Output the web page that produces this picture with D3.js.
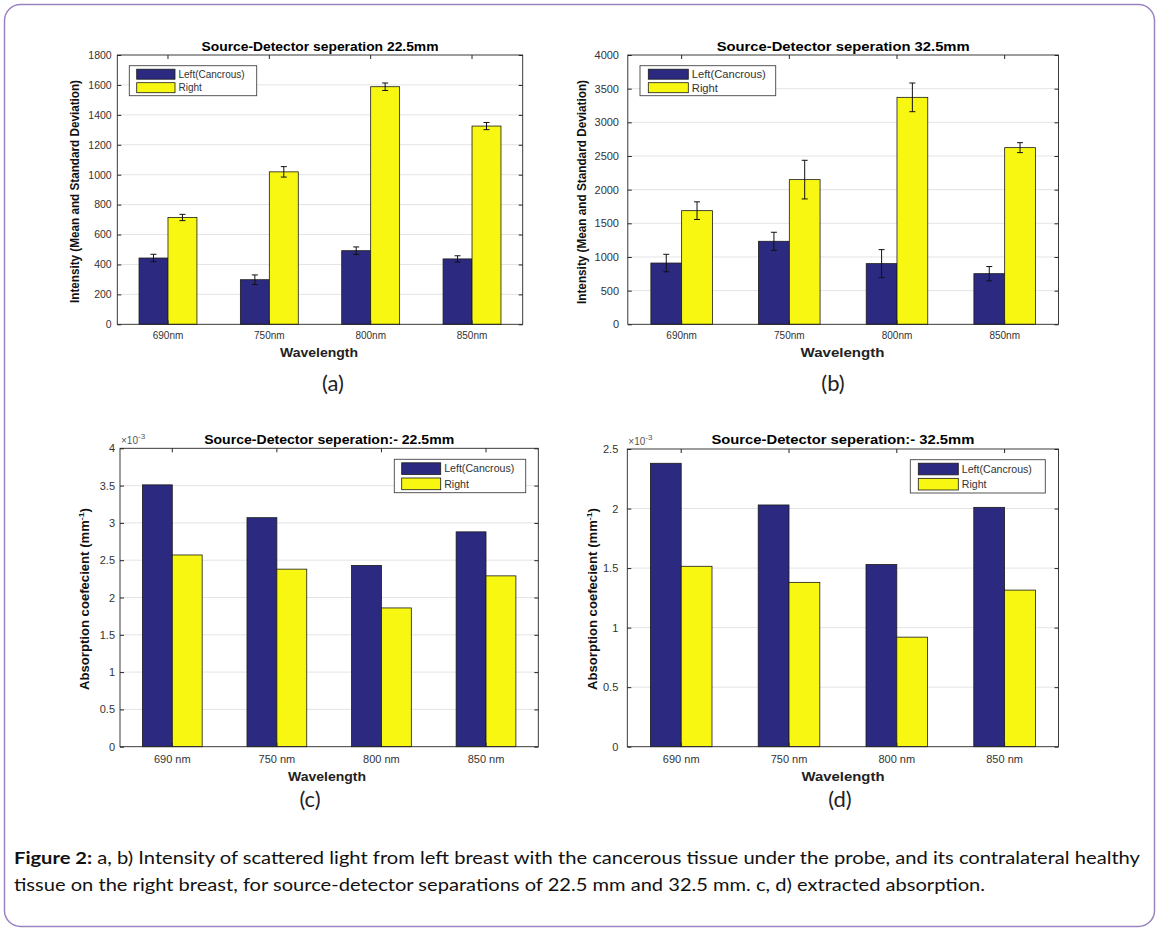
<!DOCTYPE html>
<html><head><meta charset="utf-8">
<script src="https://cdn.jsdelivr.net/npm/d3@7"></script>
<style>body{margin:0;background:#fff}svg{display:block}</style>
</head><body>
<svg id="fig" width="1160" height="934"></svg>
<script>
// ---------------- data ----------------
const seriesNames = ["Left(Cancrous)", "Right"];
const wavelengthsAB = ["690nm", "750nm", "800nm", "850nm"];
const wavelengthsCD = ["690 nm", "750 nm", "800 nm", "850 nm"];

// (a) intensity, 22.5 mm separation: mean and SD
const intensity225Left    = [443, 298, 492, 437];
const intensity225LeftSD  = [25, 32, 25, 21];
const intensity225Right   = [714, 1019, 1588, 1325];
const intensity225RightSD = [21, 35, 25, 24];

// (b) intensity, 32.5 mm separation: mean and SD
const intensity325Left    = [910, 1233, 901, 752];
const intensity325LeftSD  = [130, 134, 208, 106];
const intensity325Right   = [1688, 2149, 3371, 2624];
const intensity325RightSD = [131, 287, 213, 74];

// (c),(d) absorption coefficient, in units of 10^-3 mm^-1
const absorption225Left  = [3.51, 3.07, 2.43, 2.88];
const absorption225Right = [2.57, 2.38, 1.86, 2.29];
const absorption325Left  = [2.38, 2.03, 1.53, 2.01];
const absorption325Right = [1.515, 1.38, 0.92, 1.315];

const ticksA = [0, 200, 400, 600, 800, 1000, 1200, 1400, 1600, 1800];
const ticksB = [0, 500, 1000, 1500, 2000, 2500, 3000, 3500, 4000];
const ticksC = [0, 0.5, 1, 1.5, 2, 2.5, 3, 3.5, 4];
const ticksD = [0, 0.5, 1, 1.5, 2, 2.5];

const titles = ["Source-Detector seperation 22.5mm", "Source-Detector seperation 32.5mm",
                "Source-Detector seperation:- 22.5mm", "Source-Detector seperation:- 32.5mm"];
const panelLetters = ["(a)", "(b)", "(c)", "(d)"];
const captionBold = "Figure 2:";
const captionLine1 = " a, b) Intensity of scattered light from left breast with the cancerous tissue under the probe, and its contralateral healthy";
const captionLine2 = "tissue on the right breast, for source-detector separations of 22.5 mm and 32.5 mm. c, d) extracted absorption.";

// ---------------- drawing ----------------
const colors = ["#2c2a80", "#f7f712"];
const FONT = "'Liberation Sans', Arial, sans-serif";
const svg = d3.select("#fig");

svg.append("rect").attr("x", 4.5).attr("y", 4.5).attr("width", 1150).attr("height", 922)
  .attr("rx", 16).attr("fill", "#fff").attr("stroke", "#9b82c0").attr("stroke-width", 1.5);

function panel(cfg) {
  const g = svg.append("g").attr("font-family", FONT);
  const x = d3.scaleBand().domain(cfg.cats).range([cfg.x0, cfg.x1]).padding(0);
  const xs = d3.scaleBand().domain(seriesNames).range([0, x.bandwidth()]).paddingOuter(0.75).paddingInner(0);
  const y = d3.scaleLinear().domain(cfg.domain).range([cfg.y1, cfg.y0]);

  // grid
  g.append("g").selectAll("line").data(cfg.ticks.slice(1, -1)).join("line")
    .attr("x1", cfg.x0).attr("x2", cfg.x1).attr("y1", d => y(d)).attr("y2", d => y(d))
    .attr("stroke", "#e4e4e4").attr("stroke-width", 1);

  // bars
  const rows = [];
  cfg.cats.forEach((c, i) => seriesNames.forEach((s, j) => rows.push({
    c, s, j, v: cfg.values[j][i], e: cfg.errors ? cfg.errors[j][i] : null })));
  g.append("g").selectAll("rect").data(rows).join("rect")
    .attr("x", d => x(d.c) + xs(d.s)).attr("width", xs.bandwidth())
    .attr("y", d => y(d.v)).attr("height", d => y(0) - y(d.v))
    .attr("fill", d => colors[d.j]).attr("stroke", "#1a1a1a").attr("stroke-width", 0.8);

  // error bars
  if (cfg.errors) {
    const eg = g.append("g").attr("stroke", "#111").attr("stroke-width", 1);
    rows.forEach(d => {
      const cx = x(d.c) + xs(d.s) + xs.bandwidth() / 2;
      eg.append("line").attr("x1", cx).attr("x2", cx).attr("y1", y(d.v - d.e)).attr("y2", y(d.v + d.e));
      [d.v - d.e, d.v + d.e].forEach(v => eg.append("line")
        .attr("x1", cx - 3).attr("x2", cx + 3).attr("y1", y(v)).attr("y2", y(v)));
    });
  }

  // axes
  const fmt = d => String(d);
  const left = g.append("g").attr("transform", `translate(${cfg.x0},0)`)
    .call(d3.axisLeft(y).tickValues(cfg.ticks).tickFormat(fmt).tickSizeInner(-4).tickSizeOuter(0).tickPadding(cfg.yPad));
  left.select(".domain").remove();
  left.selectAll("text").attr("font-size", cfg.yFs).attr("fill", "#333");
  const right = g.append("g").attr("transform", `translate(${cfg.x1},0)`)
    .call(d3.axisRight(y).tickValues(cfg.ticks).tickFormat("").tickSizeInner(-4).tickSizeOuter(0));
  right.select(".domain").remove();
  const bottom = g.append("g").attr("transform", `translate(0,${cfg.y1})`)
    .call(d3.axisBottom(x).tickSizeInner(-4).tickSizeOuter(0).tickPadding(cfg.xPad));
  bottom.select(".domain").remove();
  bottom.selectAll("text").attr("font-size", cfg.xFs).attr("fill", "#333");
  const top = g.append("g").attr("transform", `translate(0,${cfg.y0})`)
    .call(d3.axisTop(x).tickFormat("").tickSizeInner(-4).tickSizeOuter(0));
  top.select(".domain").remove();
  g.selectAll(".tick line").attr("stroke", "#262626");

  // frame
  g.append("rect").attr("x", cfg.x0).attr("y", cfg.y0).attr("width", cfg.x1 - cfg.x0)
    .attr("height", cfg.y1 - cfg.y0).attr("fill", "none").attr("stroke", "#262626").attr("stroke-width", 0.9);

  // title
  g.append("text").attr("x", (cfg.x0 + cfg.x1) / 2).attr("y", cfg.titleY).attr("text-anchor", "middle")
    .attr("font-weight", "bold").attr("font-size", 12.5).attr("textLength", cfg.titleLen)
    .attr("lengthAdjust", "spacingAndGlyphs").text(cfg.title);

  // x label
  g.append("text").attr("x", cfg.xlX).attr("y", cfg.xlY).attr("text-anchor", "middle")
    .attr("font-weight", "bold").attr("font-size", 13.5).attr("textLength", cfg.xlLen)
    .attr("lengthAdjust", "spacingAndGlyphs").attr("fill", "#222").text("Wavelength");

  // y label
  const yl = g.append("text").attr("transform", `translate(${cfg.ylX},${cfg.ylY}) rotate(-90)`)
    .attr("text-anchor", "middle").attr("font-weight", "bold").attr("font-size", 12)
    .attr("textLength", cfg.ylLen).attr("lengthAdjust", "spacingAndGlyphs").attr("fill", "#111");
  if (cfg.absorption) {
    yl.append("tspan").text("Absorption coefecient (mm");
    yl.append("tspan").attr("font-size", 8).attr("dy", -5).text("-1");
    yl.append("tspan").attr("dy", 5).text(")");
    const ex = g.append("text").attr("x", cfg.x0 + 1).attr("y", cfg.y0 - 4)
      .attr("font-size", 10).attr("fill", "#555");
    ex.append("tspan").text("\u00d710");
    ex.append("tspan").attr("font-size", 8).attr("dy", -5).text("-3");
  } else {
    yl.text("Intensity (Mean and Standard Deviation)");
  }

  // legend
  const L = cfg.legend;
  const lg = g.append("g");
  lg.append("rect").attr("x", L.x).attr("y", L.y).attr("width", L.w).attr("height", L.h)
    .attr("fill", "#fff").attr("stroke", "#444").attr("stroke-width", 0.9);
  seriesNames.forEach((s, j) => {
    const ry = L.y + 3.5 + j * (L.h / 2 - 1.5);
    lg.append("rect").attr("x", L.sx).attr("y", ry).attr("width", L.sw).attr("height", L.h / 2 - 5)
      .attr("fill", colors[j]).attr("stroke", "#1a1a1a").attr("stroke-width", 0.8);
    lg.append("text").attr("x", L.sx + L.sw + 3.5).attr("y", ry + (L.h / 2 - 5) / 2 + L.fs * 0.36)
      .attr("font-size", L.fs).attr("fill", "#333").text(s);
  });

  // panel letter
  svg.append("text").attr("x", cfg.letterX).attr("y", cfg.letterY).attr("text-anchor", "middle")
    .attr("font-family", "Lato, 'Open Sans', sans-serif").attr("font-size", 22).attr("fill", "#222")
    .text(cfg.letter);
}

panel({ cats: wavelengthsAB, values: [intensity225Left, intensity225Right],
  errors: [intensity225LeftSD, intensity225RightSD], domain: [0, 1800], ticks: ticksA,
  x0: 117.3, x1: 522.7, y0: 55, y1: 324.3, yPad: 5.6, yFs: 10.5, xPad: 7.6, xFs: 10,
  title: titles[0], titleY: 50.5, titleLen: 237, xlX: 319, xlY: 356.5, xlLen: 78,
  ylX: 78.5, ylY: 191.5, ylLen: 223,
  legend: { x: 129.3, y: 65.7, w: 127.4, h: 30, sx: 136.7, sw: 38.3, fs: 10 },
  letter: panelLetters[0], letterX: 333, letterY: 391 });

panel({ cats: wavelengthsAB, values: [intensity325Left, intensity325Right],
  errors: [intensity325LeftSD, intensity325RightSD], domain: [0, 4000], ticks: ticksB,
  x0: 627.8, x1: 1058.5, y0: 55, y1: 324.3, yPad: 8.8, yFs: 11, xPad: 7.6, xFs: 10,
  title: titles[1], titleY: 50.5, titleLen: 253, xlX: 842.5, xlY: 356.5, xlLen: 84,
  ylX: 585.5, ylY: 192, ylLen: 224,
  legend: { x: 640, y: 65.7, w: 135.7, h: 30, sx: 648.3, sw: 40, fs: 11.2 },
  letter: panelLetters[1], letterX: 833, letterY: 391 });

panel({ cats: wavelengthsCD, values: [absorption225Left, absorption225Right], absorption: true,
  domain: [0, 4], ticks: ticksC,
  x0: 120, x1: 538.3, y0: 448.3, y1: 746.7, yPad: 5, yFs: 11, xPad: 8.2, xFs: 11,
  title: titles[2], titleY: 443.5, titleLen: 250, xlX: 327, xlY: 781, xlLen: 78,
  ylX: 88.5, ylY: 599, ylLen: 182,
  legend: { x: 394.3, y: 459.3, w: 131.4, h: 33.4, sx: 401.7, sw: 39, fs: 10.6 },
  letter: panelLetters[2], letterX: 310, letterY: 807 });

panel({ cats: wavelengthsCD, values: [absorption325Left, absorption325Right], absorption: true,
  domain: [0, 2.5], ticks: ticksD,
  x0: 627.3, x1: 1058.5, y0: 449, y1: 746.7, yPad: 9, yFs: 11, xPad: 8.2, xFs: 11,
  title: titles[3], titleY: 443.5, titleLen: 263, xlX: 843, xlY: 781, xlLen: 83,
  ylX: 596.5, ylY: 599, ylLen: 182,
  legend: { x: 910.3, y: 459.7, w: 135, h: 33.3, sx: 918.3, sw: 40, fs: 10.6 },
  letter: panelLetters[3], letterX: 840, letterY: 807 });

// caption
const cap = svg.append("g").attr("font-family", "Lato, 'Open Sans', sans-serif").attr("font-size", 17).attr("fill", "#111");
const c1 = cap.append("text").attr("x", 14).attr("y", 864).attr("textLength", 1126).attr("lengthAdjust", "spacingAndGlyphs");
c1.append("tspan").attr("font-weight", "bold").text(captionBold);
c1.append("tspan").text(captionLine1);
cap.append("text").attr("x", 14).attr("y", 891).attr("textLength", 971).attr("lengthAdjust", "spacingAndGlyphs").text(captionLine2);
</script>
</body></html>
